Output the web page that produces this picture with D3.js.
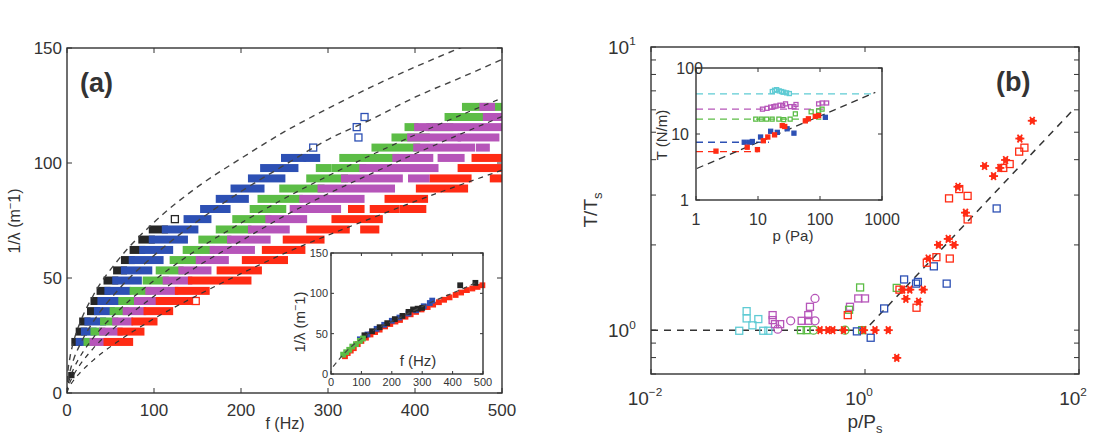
<!DOCTYPE html>
<html>
<head>
<meta charset="utf-8">
<script src="https://cdn.jsdelivr.net/npm/d3@7"></script>
<style>
  body { margin: 0; background: #fff; }
  svg text { font-family: "Liberation Sans", Arial, Helvetica, sans-serif; fill: #333; }
</style>
</head>
<body>
<svg id="chart" width="1119" height="438"></svg>
<script>
// ---------- Panel (a): runs of squares, [1/lambda level, f start, f end] ----------
const blackRuns = [[22.2,9,13],[26.7,14,19],[31.1,18,23],[35.6,27,34],[40.0,31,38],[44.4,38,46],[48.9,46,55],[53.3,57,65],[57.8,66,74],[62.2,76,86],[66.7,86,97],[71.1,98,112]];
const blueRuns = [[22.2,14,22],[26.7,20,30],[31.1,24,41],[35.6,35,51],[40.0,39,61],[44.4,47,69],[48.9,56,82],[53.3,66,94],[57.8,75,107],[62.2,87,118],[66.7,98,135],[71.1,113,147],[75.6,138,162],[80.0,157,184],[84.4,175,205],[88.9,192,223],[93.3,212,247],[97.8,226,262],[102.2,250,271],[102.2,276,287]];
const greenRuns = [[22.2,23,29],[26.7,31,40],[31.1,42,55],[35.6,53,67],[40.0,63,80],[44.4,76,93],[48.9,91,113],[53.3,106,130],[57.8,122,150],[62.2,137,166],[66.7,155,185],[71.1,175,208],[75.6,194,231],[80.0,214,248],[84.4,223,267],[88.9,248,292],[93.3,279,319],[97.8,290,300],[97.8,308,340],[102.2,317,378],[106.7,354,402],[111.1,377,413],[115.6,392,400],[115.6,417,440],[120.0,438,482],[124.4,458,503]];
const magentaRuns = [[22.2,30,45],[26.7,41,60],[31.1,56,72],[35.6,68,87],[40.0,81,103],[44.4,94,124],[48.9,114,140],[53.3,132,162],[57.8,152,182],[62.2,168,212],[66.7,188,230],[71.1,212,252],[75.6,232,272],[80.0,260,311],[84.4,271,338],[88.9,292,373],[93.3,319,382],[93.3,396,413],[97.8,340,423],[102.2,378,417],[102.2,430,453],[106.7,402,465],[106.7,474,482],[111.1,395,449],[111.1,453,493],[115.6,403,412],[115.6,419,499],[120.0,482,503],[124.4,478,488]];
const redRuns = [[22.2,46,72],[26.7,62,85],[31.1,78,100],[35.6,92,118],[40.0,106,141],[44.4,128,160],[48.9,143,208],[53.3,176,220],[57.8,205,250],[62.2,228,270],[66.7,252,292],[71.1,279,321],[71.1,341,355],[75.6,308,359],[80.0,327,338],[80.0,352,378],[80.0,386,409],[84.4,369,411],[88.9,405,457],[93.3,421,461],[93.3,490,503],[97.8,453,503],[102.2,469,497]];
// lone open squares [level, f]
const blackLone = [[75.6,124]];
const blueLone = [[106.7,283],[111.1,335],[115.6,333],[120.0,342]];
const redLone = [[40.0,148]];
const blackDot = [[7.8,5]];

// dashed fits, [f, 1/lambda]
const fitBlack = [[0,0],[1,8.7],[3,14.5],[8,22.9],[15,30.6],[30,42.3],[60,58.4],[100,74.2],[150,89.6],[200,102],[250,113.6],[300,123.7],[350,133.1],[400,141.7],[460,151.3]];
const fitBlue = [[0,0],[1,4.8],[3,8.7],[8,15],[15,21.1],[30,30.9],[60,45.3],[100,59.8],[150,74.7],[200,87.6],[250,99.1],[300,110.2],[350,119],[400,128.6],[450,136.7],[500,145]];
const fitGreen = [[0,0],[1,3.2],[3,6.1],[8,10.9],[15,15.8],[30,23.9],[60,36.1],[100,48.9],[150,62.4],[200,73.9],[250,84.6],[300,94.4],[350,103.5],[400,112.2],[450,120.4],[500,128.2]];
const fitMagenta = [[0,0],[1,2.1],[3,4.3],[8,8.1],[15,12.3],[30,19.3],[60,30.2],[100,42.1],[150,55.1],[200,66.1],[250,77],[300,86.6],[350,95.4],[400,104],[450,112.2],[500,120.2]];
const fitRed = [[0,0],[1,1.4],[3,2.9],[8,5.7],[15,8.8],[30,14.2],[60,22.8],[100,32.3],[150,42.5],[200,51.9],[250,60.7],[300,68.6],[350,76],[400,83.3],[450,90.2],[500,96.9]];

const xTicksA = [0, 100, 200, 300, 400, 500];
const yTicksA = [0, 50, 100, 150];

// inset (a): [f, 1/lambda]
const insetRed = [[46,22],[55,26],[65,29],[75,32],[88,37],[100,41],[115,45],[130,49],[145,52],[160,55],[178,59],[195,62],[212,65],[227,67],[245,71],[262,74],[280,77],[298,80],[318,83],[336,86],[355,89],[372,92],[390,95],[410,98],[428,101],[447,104],[465,106],[482,108],[498,110]];
const insetBlack = [[110,48],[135,53],[160,58],[185,63],[210,68],[235,72],[255,77],[270,80],[285,81],[300,82],[425,110],[475,113]];
const insetBlue = [[95,43],[120,49],[150,56],[175,61],[200,66],[225,70],[255,75],[280,79],[305,84],[325,88],[333,91]];
const insetGreen = [[40,24],[50,27],[60,30],[70,34],[82,37],[95,41],[105,44]];
const insetFit = [[7,9],[40,24],[115,48],[227,70],[336,90],[447,108],[480,114]];
const xTicksInA = [0, 100, 200, 300, 400, 500];
const yTicksInA = [0, 50, 100, 150];

// ---------- Panel (b): [p/Ps, T/Ts] ----------
const cyanSq = [[0.0668,0.995],[0.0783,1.167],[0.0783,1.10],[0.0887,1.04],[0.1007,1.094],[0.112,0.995],[0.125,0.995]];
const magentaSq = [[0.137,1.13],[0.137,1.085],[0.144,1.05],[0.161,1.05],[0.256,1.079],[0.295,1.079],[0.306,1.209],[0.295,1.13],[0.724,1.209],[0.865,1.294],[1.0,1.294]];
const magentaCirc = [[0.153,1.008],[0.202,1.079],[0.341,1.079],[0.341,1.294]];
const greenSq = [[0.252,1],[0.285,1],[0.71,1.18],[0.90,1.415],[0.94,1],[1.98,1.41]];
const greenCirc = [[0.33,1],[0.65,1]];
const blueSq = [[0.84,0.99],[1.13,0.94],[1.51,1.193],[2.32,1.51],[3.0,1.46],[3.12,1.48],[4.4,1.68],[5.8,1.46],[17.0,2.69]];
const redSq = [[0.69,1.13],[2.1,1.39],[3.03,1.2],[3.78,1.73],[4.65,1.81],[6.2,1.79],[6.1,2.92],[7.6,3.15],[9.1,2.98],[9.1,2.46],[19.6,3.74],[22.5,3.86],[27.6,4.27],[30.9,4.41]];
const redStar = [[0.38,1],[0.45,1],[0.5,1],[0.63,1],[0.97,1],[1.24,1],[1.65,1],[1.98,0.798],[2.25,1.39],[2.41,1.29],[2.62,1.39],[3.17,1.26],[3.5,1.39],[3.9,1.79],[4.86,2.0],[6.0,2.1],[6.8,2.0],[7.4,3.21],[8.7,2.6],[13.1,3.8],[15.9,3.5],[18.2,3.74],[20.6,3.99],[28.0,4.75],[36.6,5.49]];
const bFit = [[0.01,1],[1,1],[86,5.94]];
const yMinorB = [0.7,0.8,0.9,1,2,3,4,5,6,7,8,9,10];

// inset (b): [p (Pa), T (N/m)]
const inCyan = [[17,44],[18.5,46],[20,47],[22,45],[24,44],[26,43],[29,42],[32,41]];
const inMagenta = [[11.8,23.8],[14,24.5],[16,25.5],[18,26],[19.5,26.5],[22.6,27.3],[25,27],[27.8,28.6],[33.5,26],[38,26],[41,28],[95,28.6],[108,29.5],[128,29.5]];
const inGreen = [[9.2,16.8],[11.3,16.8],[13.8,16.8],[16.9,16.8],[21.7,16.8],[26,16.5],[33,16.8],[40,20.2],[72,21.7],[95,22.5],[108,23.8]];
const inBlue = [[6,7.5],[7.3,7.5],[8.1,7.7],[11,9],[16,11],[20.5,10.6],[29.5,12],[38,10.3],[122,17.9]];
const inRed = [[2.1,5.5],[6.7,6.3],[9.8,5.8],[12.2,7.9],[14.4,9],[18.5,9.7],[24.6,13.4],[27,13],[58,15.8],[65,17],[84,18.5],[95,19]];
const inLevelT = [40.5, 23.8, 16.8, 7.5, 5.4];
const inLevelEnd = [780, 115, 105, 15, 10];
const inFit = [[1.03,3.0],[780,42.6]];

const C = { black: "#262626", blue: "#2d50b4", green: "#5cbd46", magenta: "#b655b9", red: "#ff2b14", cyan: "#5fcbd4", axis: "#333" };

const svg = d3.select("#chart");

// ---------- helpers ----------
function box(g, r) {
  g.append("rect").attr("x", r.left).attr("y", r.top)
    .attr("width", r.right - r.left).attr("height", r.bottom - r.top)
    .attr("fill", "none").attr("stroke", C.axis).attr("stroke-width", 1.4);
}
function ticks(g, x, y, r, xt, yt, len) {
  g.selectAll(null).data(xt).enter().append("line")
    .attr("x1", d => x(d)).attr("x2", d => x(d)).attr("y1", r.bottom).attr("y2", r.bottom - len)
    .attr("stroke", C.axis);
  g.selectAll(null).data(xt).enter().append("line")
    .attr("x1", d => x(d)).attr("x2", d => x(d)).attr("y1", r.top).attr("y2", r.top + len)
    .attr("stroke", C.axis);
  g.selectAll(null).data(yt).enter().append("line")
    .attr("y1", d => y(d)).attr("y2", d => y(d)).attr("x1", r.left).attr("x2", r.left + len)
    .attr("stroke", C.axis);
  g.selectAll(null).data(yt).enter().append("line")
    .attr("y1", d => y(d)).attr("y2", d => y(d)).attr("x1", r.right).attr("x2", r.right - len)
    .attr("stroke", C.axis);
}
function supText(g, x, y, base, sup, size, anchor) {
  const t = g.append("text").attr("x", x).attr("y", y).attr("font-size", size).attr("text-anchor", anchor);
  t.append("tspan").text(base);
  t.append("tspan").attr("dy", -size * 0.45).attr("font-size", size * 0.62).text(sup);
  return t;
}
function squares(g, pts, x, y, color, size, filled) {
  g.selectAll(null).data(pts).enter().append("rect")
    .attr("x", d => x(d[0]) - size / 2).attr("y", d => y(d[1]) - size / 2)
    .attr("width", size).attr("height", size)
    .attr("fill", filled ? color : "none").attr("stroke", color).attr("stroke-width", 1.3);
}
function circles(g, pts, x, y, color, r) {
  g.selectAll(null).data(pts).enter().append("circle")
    .attr("cx", d => x(d[0])).attr("cy", d => y(d[1])).attr("r", r)
    .attr("fill", "none").attr("stroke", color).attr("stroke-width", 1.3);
}

// ================= Panel (a) =================
const A = { left: 67, right: 502, top: 48, bottom: 393 };
const xa = d3.scaleLinear().domain([0, 500]).range([A.left, A.right]);
const ya = d3.scaleLinear().domain([0, 150]).range([A.bottom, A.top]);

svg.append("clipPath").attr("id", "clipA").append("rect")
  .attr("x", A.left).attr("y", A.top).attr("width", A.right - A.left).attr("height", A.bottom - A.top);

const gA = svg.append("g").attr("clip-path", "url(#clipA)");

function runs(data, color) {
  gA.append("g").selectAll("rect").data(data).enter().append("rect")
    .attr("x", d => xa(d[1]) - 3.5)
    .attr("y", d => ya(d[0]) - 4)
    .attr("width", d => xa(d[2]) - xa(d[1]) + 7)
    .attr("height", 8)
    .attr("fill", color);
}
runs(blackRuns, C.black);
runs(blueRuns, C.blue);
runs(greenRuns, C.green);
runs(magentaRuns, C.magenta);
runs(redRuns, C.red);

const loneA = gA.append("g");
squares(loneA, blackLone.map(d => [d[1], d[0]]), xa, ya, C.black, 7, false);
squares(loneA, blueLone.map(d => [d[1], d[0]]), xa, ya, C.blue, 7, false);
squares(loneA, redLone.map(d => [d[1], d[0]]), xa, ya, C.red, 7, false);
squares(loneA, blackDot.map(d => [d[1], d[0]]), xa, ya, C.black, 5, true);

const lineA = d3.line().x(d => xa(d[0])).y(d => ya(d[1])).curve(d3.curveMonotoneX);
gA.append("path").datum(fitBlack).attr("d", lineA).attr("fill", "none")
  .attr("stroke", "#444").attr("stroke-width", 1.4).attr("stroke-dasharray", "6,5");
gA.append("path").datum(fitBlue).attr("d", lineA).attr("fill", "none")
  .attr("stroke", "#444").attr("stroke-width", 1.4).attr("stroke-dasharray", "6,5");
[fitGreen, fitMagenta, fitRed].forEach(f => {
  gA.append("path").datum(f).attr("d", lineA).attr("fill", "none")
    .attr("stroke", "#333").attr("stroke-width", 1.2).attr("stroke-dasharray", "5,5");
});

const axA = svg.append("g");
box(axA, A);
ticks(axA, xa, ya, A, xTicksA, yTicksA, 5);
axA.selectAll(null).data(xTicksA).enter().append("text")
  .attr("x", d => xa(d)).attr("y", 416).attr("text-anchor", "middle").attr("font-size", 17).text(d => d);
axA.selectAll(null).data(yTicksA).enter().append("text")
  .attr("x", A.left - 5).attr("y", d => ya(d) + 6).attr("text-anchor", "end").attr("font-size", 17).text(d => d);
axA.append("text").attr("x", 285).attr("y", 429).attr("text-anchor", "middle").attr("font-size", 16).text("f (Hz)");

function lambdaLabel(g, x, y, size) {
  const t = g.append("text").attr("transform", `translate(${x},${y}) rotate(-90)`)
    .attr("text-anchor", "middle").attr("font-size", size);
  t.append("tspan").text("1/\u03bb (m");
  t.append("tspan").attr("dy", -size * 0.4).attr("font-size", size * 0.7).text("\u2212");
  t.append("tspan").attr("dy", size * 0.4).text("1)");
}
lambdaLabel(axA, 20, 221, 16);
axA.append("text").attr("x", 80).attr("y", 92).attr("font-size", 27).attr("font-weight", "bold").text("(a)");

// ---- inset (a) ----
const IA = { left: 331, right: 483, top: 253, bottom: 374 };
const xia = d3.scaleLinear().domain([0, 500]).range([IA.left, IA.right]);
const yia = d3.scaleLinear().domain([0, 150]).range([IA.bottom, IA.top]);
const gIA = svg.append("g");
gIA.append("rect").attr("x", IA.left).attr("y", IA.top).attr("width", IA.right - IA.left)
  .attr("height", IA.bottom - IA.top).attr("fill", "#fff");
squares(gIA, insetRed, xia, yia, C.red, 4.5, true);
squares(gIA, insetBlue, xia, yia, C.blue, 4.5, true);
squares(gIA, insetBlack, xia, yia, C.black, 4.5, true);
squares(gIA, insetGreen, xia, yia, C.green, 4.5, true);
gIA.append("path").datum(insetFit)
  .attr("d", d3.line().x(d => xia(d[0])).y(d => yia(d[1])).curve(d3.curveMonotoneX))
  .attr("fill", "none").attr("stroke", "#444").attr("stroke-width", 1.2).attr("stroke-dasharray", "5,4");
box(gIA, IA);
ticks(gIA, xia, yia, IA, xTicksInA, yTicksInA, 3);
gIA.selectAll(null).data(xTicksInA).enter().append("text")
  .attr("x", d => xia(d)).attr("y", 386).attr("text-anchor", "middle").attr("font-size", 11).text(d => d);
gIA.selectAll(null).data(yTicksInA).enter().append("text")
  .attr("x", IA.left - 3).attr("y", d => yia(d) + 4).attr("text-anchor", "end").attr("font-size", 11).text(d => d);
gIA.append("text").attr("x", 418).attr("y", 366).attr("text-anchor", "middle").attr("font-size", 15).text("f (Hz)");
lambdaLabel(gIA, 305, 322, 15);

// ================= Panel (b) =================
const B = { left: 651, right: 1079, top: 47, bottom: 374 };
const xb = d3.scaleLog().domain([0.01, 100]).range([B.left, B.right]);
const yb = d3.scaleLog().domain([0.7, 10]).range([B.bottom, B.top]);

const gB = svg.append("g");
gB.append("path").datum(bFit)
  .attr("d", d3.line().x(d => xb(d[0])).y(d => yb(d[1])))
  .attr("fill", "none").attr("stroke", "#333").attr("stroke-width", 1.5).attr("stroke-dasharray", "7,6");

squares(gB, cyanSq, xb, yb, C.cyan, 7, false);
squares(gB, magentaSq, xb, yb, C.magenta, 7, false);
circles(gB, magentaCirc, xb, yb, C.magenta, 4);
squares(gB, greenSq, xb, yb, C.green, 7, false);
circles(gB, greenCirc, xb, yb, C.green, 4);
squares(gB, blueSq, xb, yb, C.blue, 7, false);
squares(gB, redSq, xb, yb, C.red, 7, false);

const stars = gB.append("g").selectAll("g").data(redStar).enter().append("g")
  .attr("transform", d => `translate(${xb(d[0])},${yb(d[1])})`);
stars.append("circle").attr("r", 2.8).attr("fill", C.red);
[0, 60, 120].forEach(a => {
  stars.append("line").attr("x1", -4.5).attr("x2", 4.5).attr("y1", 0).attr("y2", 0)
    .attr("transform", `rotate(${a})`).attr("stroke", C.red).attr("stroke-width", 1.8);
});

const axB = svg.append("g");
box(axB, B);
ticks(axB, xb, yb, B, [0.01, 1, 100], yMinorB, 5);
[[0.01, "\u22122"], [1, "0"], [100, "2"]].forEach(d => {
  supText(axB, xb(d[0]) - 6, 405, "10", d[1], 19, "middle");
});
[[1, "0"], [10, "1"]].forEach(d => {
  supText(axB, 630, yb(d[0]) + 7, "10", d[1], 19, "end").attr("text-anchor", "start").attr("x", 608);
});
const pl = axB.append("text").attr("x", 865).attr("y", 428).attr("text-anchor", "middle").attr("font-size", 19);
pl.append("tspan").text("p/P");
pl.append("tspan").attr("dy", 5).attr("font-size", 13).text("s");
const tl = axB.append("text").attr("transform", "translate(597,210) rotate(-90)").attr("text-anchor", "middle").attr("font-size", 19);
tl.append("tspan").text("T/T");
tl.append("tspan").attr("dy", 5).attr("font-size", 13).text("s");
axB.append("text").attr("x", 996).attr("y", 91).attr("font-size", 27).attr("font-weight", "bold").text("(b)");

// ---- inset (b) ----
const IB = { left: 696, right: 882, top: 68, bottom: 200 };
const xib = d3.scaleLog().domain([1, 1000]).range([IB.left, IB.right]);
const yib = d3.scaleLog().domain([1, 100]).range([IB.bottom, IB.top]);
const gIB = svg.append("g");
gIB.append("rect").attr("x", IB.left).attr("y", IB.top).attr("width", IB.right - IB.left)
  .attr("height", IB.bottom - IB.top).attr("fill", "#fff");
const inColors = [C.cyan, C.magenta, C.green, C.blue, C.red];
inLevelT.forEach((t, i) => {
  gIB.append("line").attr("x1", xib(1)).attr("x2", xib(inLevelEnd[i]))
    .attr("y1", yib(t)).attr("y2", yib(t))
    .attr("stroke", inColors[i]).attr("stroke-width", 1.3).attr("stroke-dasharray", "7,5");
});
gIB.append("path").datum(inFit)
  .attr("d", d3.line().x(d => xib(d[0])).y(d => yib(d[1])))
  .attr("fill", "none").attr("stroke", "#333").attr("stroke-width", 1.3).attr("stroke-dasharray", "7,5");
squares(gIB, inCyan, xib, yib, C.cyan, 4, false);
squares(gIB, inMagenta, xib, yib, C.magenta, 4, false);
squares(gIB, inGreen, xib, yib, C.green, 4, false);
squares(gIB, inBlue, xib, yib, C.blue, 4, true);
squares(gIB, inRed, xib, yib, C.red, 4, true);
box(gIB, IB);
ticks(gIB, xib, yib, IB, [1, 10, 100, 1000], [1, 10, 100], 4);
gIB.selectAll(null).data([1, 10, 100, 1000]).enter().append("text")
  .attr("x", d => xib(d)).attr("y", 225).attr("text-anchor", "middle").attr("font-size", 16).text(d => d);
gIB.selectAll(null).data([1, 10, 100]).enter().append("text")
  .attr("x", d => d === 100 ? 703 : 689).attr("y", d => yib(d) + 6).attr("text-anchor", "end").attr("font-size", 16).text(d => d);
gIB.append("text").attr("x", 793).attr("y", 241).attr("text-anchor", "middle").attr("font-size", 15).text("p (Pa)");
gIB.append("text").attr("transform", "translate(667,135) rotate(-90)").attr("text-anchor", "middle").attr("font-size", 15).text("T (N/m)");
</script>
</body>
</html>
